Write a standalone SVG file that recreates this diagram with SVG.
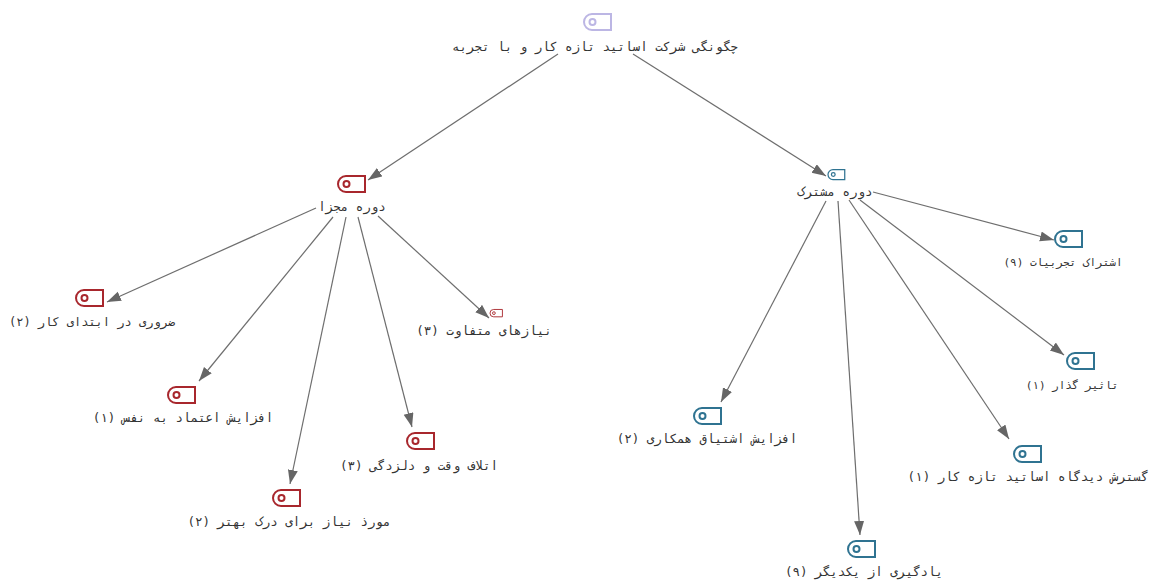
<svg xmlns="http://www.w3.org/2000/svg" width="1149" height="582" viewBox="0 0 1149 582">
<style>
text{font-family:"DejaVu Sans Mono","Liberation Mono","Noto Sans",monospace;font-size:12.5px;fill:#333;stroke:none;direction:rtl;text-anchor:middle}
text.s{font-size:11px}
text.m{font-size:12px}
.e{stroke:#6e6e6e;stroke-width:1.2;fill:none;marker-end:url(#a)}
.i{fill:#fff;stroke-width:2}
.r{stroke:#a8272d}.b{stroke:#2f7391}.p{stroke:#bcb6e4}
</style>
<defs><marker id="a" markerUnits="userSpaceOnUse" markerWidth="15" markerHeight="12" refX="14" refY="5" orient="auto"><path d="M0 0L14 5L0 10Z" fill="#666"/></marker>
<g id="g"><path d="M8 1H27V17H8A8 8 0 0 1 8 1Z"/><circle cx="8.500" cy="9" r="3"/></g></defs>
<rect width="1149" height="582" fill="#fff"/>
<g id="connectors">
<path class="e" d="M558 54L368 180"/>
<path class="e" d="M633 54L826 176"/>
<path class="e" d="M316 208L107 302"/>
<path class="e" d="M333 217L199 381"/>
<path class="e" d="M346 217L290 484"/>
<path class="e" d="M358 217L412 427"/>
<path class="e" d="M378 216L489 318"/>
<path class="e" d="M826 201L721 402"/>
<path class="e" d="M838 201L860 535"/>
<path class="e" d="M849 200L1009 439"/>
<path class="e" d="M860 200L1064 355"/>
<path class="e" d="M873 192L1054 240"/>
</g>
<g id="n0" class="i p"><use href="#g" x="584" y="13"/><text x="595" y="51">چگونگی شرکت اساتید تازه کار و با تجربه</text></g>
<g id="n1" class="i r"><use href="#g" x="338" y="175"/><text x="352" y="211">دوره مجزا</text></g>
<g id="n2" class="i b"><use href="#g" transform="translate(828 169) scale(.62)"/><text x="835" y="196">دوره مشترک</text></g>
<g id="n3" class="i r"><use href="#g" x="76" y="289"/><text class="m" x="92" y="326">ضروری در ابتدای کار (۲)</text></g>
<g id="n4" class="i r"><use href="#g" x="168" y="386"/><text x="183" y="422">افزایش اعتماد به نفس (۱)</text></g>
<g id="n5" class="i r"><use href="#g" x="273" y="489"/><text x="289" y="526">مورذ نیاز برای درک بهتر (۲)</text></g>
<g id="n6" class="i r"><use href="#g" x="407" y="432"/><text x="419" y="470">اتلاف وقت و دلزدگی (۳)</text></g>
<g id="n7" class="i r"><use href="#g" transform="translate(490 309) scale(.46)"/><text x="484" y="335">نیازهای متفاوت (۳)</text></g>
<g id="n8" class="i b"><use href="#g" x="694" y="407"/><text x="707" y="443">افزایش اشتیاق همکاری (۲)</text></g>
<g id="n9" class="i b"><use href="#g" x="848" y="540"/><text x="864" y="576">یادگیری از یکدیگر (۹)</text></g>
<g id="n10" class="i b"><use href="#g" x="1014" y="445"/><text x="1028" y="481">گسترش دیدگاه اساتید تازه کار (۱)</text></g>
<g id="n11" class="i b"><use href="#g" x="1067" y="352"/><text class="s" x="1072" y="389">تاثیر گذار (۱)</text></g>
<g id="n12" class="i b"><use href="#g" x="1055" y="230"/><text class="s" x="1063" y="266">اشتراک تجربیات (۹)</text></g>
</svg>
